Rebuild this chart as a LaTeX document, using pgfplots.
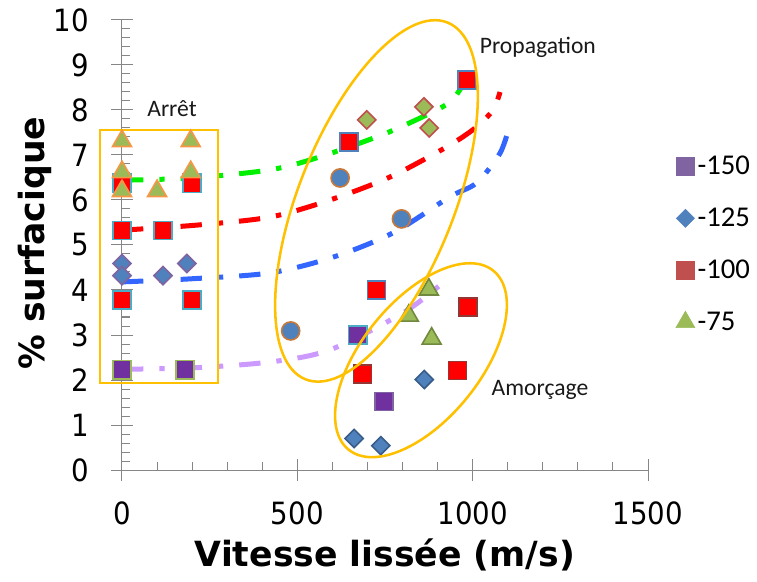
\documentclass[border=0pt]{standalone}
\usepackage{fontspec}
\setmainfont{Carlito}
\newfontfamily\titlefont{DejaVu Sans}
\newfontfamily\tickfont{DejaVu Sans}[FakeStretch=0.9]
\usepackage{pgfplots}
\pgfplotsset{compat=1.18}
\definecolor{axisgray}{HTML}{868686}
\definecolor{mPurple}{HTML}{7030A0}
\definecolor{mBlue}{HTML}{4F81BD}
\definecolor{mRed}{HTML}{FF0000}
\definecolor{mGreen}{HTML}{9BBB59}
\definecolor{bCyan}{HTML}{4BACC6}
\definecolor{bOrange}{HTML}{F79646}
\definecolor{bPurple}{HTML}{8064A2}
\definecolor{bDarkBlue}{HTML}{385D8A}
\definecolor{bDarkRed}{HTML}{943634}
\definecolor{bDarkGreen}{HTML}{71893F}
\definecolor{bBrown}{HTML}{C0504D}
\definecolor{bCircle}{HTML}{C87838}
\definecolor{lgPurple}{HTML}{8064A2}
\definecolor{lgBlue}{HTML}{4F81BD}
\definecolor{lgRed}{HTML}{C0504D}
\definecolor{lgGreen}{HTML}{9BBB59}
\definecolor{lnGreen}{HTML}{00F000}
\definecolor{lnRed}{HTML}{FF0000}
\definecolor{lnBlue}{HTML}{3366FF}
\definecolor{lnPurple}{HTML}{CC99FF}
\definecolor{zone}{HTML}{FFC000}
\begin{document}
\begin{tikzpicture}
\begin{axis}[
  scale only axis, width=394.5pt, height=337.5pt,
  xmin=0, xmax=1500, ymin=0, ymax=10,
  enlargelimits=false, clip=false,
  axis lines=left, axis line style={-, draw=axisgray, line width=0.75pt},
  xtick={0,500,1000,1500}, ytick={0,1,...,10},
  minor x tick num=4, minor y tick num=4,
  tick align=center, major tick length=16pt, minor tick length=6pt,
  every tick/.style={draw=axisgray, line width=0.75pt},
  every minor x tick/.append style={yshift=3pt},
  every minor y tick/.append style={xshift=3pt},
  tick label style={font=\tickfont\fontsize{23}{27}\selectfont, text=black},
  /pgf/number format/assume math mode=true,
  /pgf/number format/1000 sep={},
  scaled ticks=false,
  xticklabel style={yshift=-12pt},
  yticklabel style={xshift=-13.5pt},
  xlabel={\titlefont\bfseries Vitesse lissée (m/s)},
  ylabel={\titlefont\bfseries \% surfacique},
  xlabel style={at={(axis description cs:0.5,-0.189)}, anchor=center, font=\fontsize{26}{30}\selectfont},
  ylabel style={at={(axis description cs:-0.165,0.504)}, anchor=center, font=\fontsize{26}{30}\selectfont},
  legend style={draw=none, fill=none, at={(axis description cs:1.045,0.71)}, anchor=north west,
    font=\fontsize{21.5}{26}\selectfont, row sep=19.5pt},
  legend cell align=left,
]
% legend images
\addlegendimage{only marks, mark=square*, mark size=6.8pt, draw=lgPurple, fill=lgPurple}
\addlegendentry{-150}
\addlegendimage{only marks, mark=square*, mark size=4.8pt, mark options={rotate=45}, draw=lgBlue, fill=lgBlue}
\addlegendentry{-125}
\addlegendimage{only marks, mark=square*, mark size=6.8pt, draw=lgRed, fill=lgRed}
\addlegendentry{-100}
\addlegendimage{only marks, mark=triangle*, mark size=8.2pt, draw=lgGreen, fill=lgGreen}
\addlegendentry{-75}

% -150 purple squares
\addplot[forget plot, only marks, mark=square*, mark size=6.8pt, mark options={draw=mGreen, fill=mPurple, line width=1.2pt}]
  coordinates {(0,2.23) (180,2.23)};
\addplot[forget plot, only marks, mark=square*, mark size=6.8pt, mark options={draw=bCyan, fill=mPurple, line width=1.2pt}]
  coordinates {(672,3.0)};
\addplot[forget plot, only marks, mark=square*, mark size=6.8pt, mark options={draw=bPurple, fill=mPurple, line width=1.2pt}]
  coordinates {(747,1.52)};
% -125 blue diamonds
\addplot[forget plot, only marks, mark=square*, mark size=4.8pt, mark options={rotate=45, draw=bPurple, fill=mBlue, line width=1.2pt}]
  coordinates {(0,4.59) (0,4.32) (117,4.32) (185,4.59)};
\addplot[forget plot, only marks, mark=square*, mark size=4.8pt, mark options={rotate=45, draw=bDarkBlue, fill=mBlue, line width=1.2pt}]
  coordinates {(862,2.01) (662,0.70) (738,0.54)};
% circles
\addplot[forget plot, only marks, mark=*, mark size=6.8pt, mark options={draw=bCircle, fill=mBlue, line width=1.2pt}]
  coordinates {(622,6.49) (797,5.58) (481,3.09)};
% -100 red squares
\addplot[forget plot, only marks, mark=square*, mark size=6.8pt, mark options={draw=bCyan, fill=mRed, line width=1.2pt}]
  coordinates {(0,6.37) (200,6.37) (0,5.32) (117,5.32) (0,3.78) (200,3.78)};
\addplot[forget plot, only marks, mark=square*, mark size=6.8pt, mark options={draw=mBlue, fill=mRed, line width=1.2pt}]
  coordinates {(984,8.67) (647,7.29) (726,4.0)};
\addplot[forget plot, only marks, mark=square*, mark size=6.8pt, mark options={draw=bDarkRed, fill=mRed, line width=1.2pt}]
  coordinates {(987,3.62) (686,2.13) (957,2.21)};
% -75 green
\addplot[forget plot, only marks, mark=triangle*, mark size=8.2pt, mark options={draw=bOrange, fill=mGreen, line width=1.2pt}]
  coordinates {(0,7.31) (196,7.31) (0,6.62) (196,6.62) (0,6.20) (100,6.20)};
\addplot[forget plot, only marks, mark=triangle*, mark size=8.2pt, mark options={draw=bDarkGreen, fill=mGreen, line width=1.2pt}]
  coordinates {(875,4.01) (818,3.43) (883,2.92)};
\addplot[forget plot, only marks, mark=square*, mark size=4.8pt, mark options={rotate=45, draw=bBrown, fill=mGreen, line width=1.2pt}]
  coordinates {(698,7.78) (861,8.07) (876,7.6)};

% trend lines
\addplot[forget plot, no marks, smooth, lnGreen, line width=3.75pt, line cap=butt, dash pattern=on 16pt off 12pt on 4pt off 12pt]
  coordinates {(0,6.44) (200,6.49) (422,6.67) (565,6.96) (755,7.49) (907,8.04) (950,8.3) (985,8.73)};
\addplot[forget plot, no marks, smooth, lnRed, line width=3.75pt, line cap=butt, dash pattern=on 16pt off 12pt on 4pt off 12pt]
  coordinates {(0,5.33) (210,5.44) (422,5.62) (593,6.0) (764,6.51) (926,7.18) (1007,7.6) (1058,8.0) (1078,8.4)};
\addplot[forget plot, no marks, smooth, lnBlue, line width=3.75pt, line cap=butt, dash pattern=on 16pt off 12pt on 4pt off 12pt]
  coordinates {(0,4.18) (200,4.25) (422,4.38) (602,4.73) (773,5.27) (935,6.07) (1011,6.38) (1078,7.04) (1106,7.67)};
\addplot[forget plot, no marks, smooth, lnPurple, line width=3.75pt, line cap=butt, dash pattern=on 16pt off 12pt on 4pt off 12pt]
  coordinates {(0,2.24) (200,2.27) (422,2.4) (593,2.67) (801,3.49) (915,4.16) (930,4.3)};

% zones
\draw[zone, line width=1.9pt] (axis cs:-62.7,1.93) rectangle (axis cs:273.7,7.56);
\coordinate (pc) at (axis cs:725.7,5.98);
\coordinate (ac) at (axis cs:852.6,2.44);
\node[font=\fontsize{17.7}{20}\selectfont, text=black!90] at (axis cs:1186,9.4) {Propagation};
\node[font=\fontsize{17.7}{20}\selectfont, text=black!90] at (axis cs:142.6,8.04) {Arrêt};
\node[font=\fontsize{17.7}{20}\selectfont, text=black!90] at (axis cs:1192,1.78) {Amorçage};
\end{axis}
\draw[zone, line width=1.9pt, rotate around={68.3:(pc)}] (pc) ellipse [x radius=144pt, y radius=58.4pt];
\draw[zone, line width=1.9pt, rotate around={51:(ac)}] (ac) ellipse [x radius=86.3pt, y radius=44.6pt];
\pgfresetboundingbox
\useasboundingbox (-91.5pt,-84pt) rectangle (476.25pt,352.5pt);
\end{tikzpicture}
\end{document}
